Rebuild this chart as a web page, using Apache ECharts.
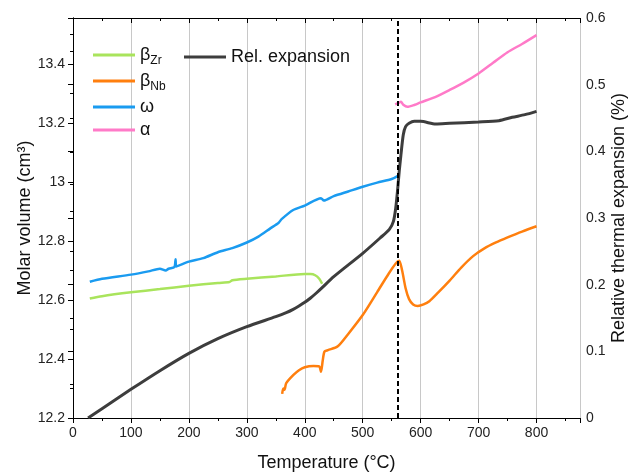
<!DOCTYPE html>
<html>
<head>
<meta charset="utf-8">
<script src="https://cdn.jsdelivr.net/npm/echarts@6/dist/echarts.min.js"></script>
<style>html,body{margin:0;padding:0;background:#fff}#c{width:630px;height:473px}</style>
</head>
<body>
<div id="c"></div>
<script>
// ---- data ----
const xTicks = [0, 100, 200, 300, 400, 500, 600, 700, 800];
const leftTicks = [12.2, 12.4, 12.6, 12.8, 13, 13.2, 13.4];
const rightTicks = [0, 0.1, 0.2, 0.3, 0.4, 0.5, 0.6];
const transitionT = 560;

const betaZrT = [29, 50, 100, 150, 200, 250, 270, 275, 300, 350, 400, 410, 418, 425, 430];
const betaZrV = [12.605, 12.613, 12.626, 12.637, 12.648, 12.658, 12.661, 12.667, 12.672, 12.680, 12.688, 12.688, 12.684, 12.672, 12.655];

const betaNbT = [361, 363, 365, 368, 380, 390, 400, 415, 425, 428, 431, 434, 440, 457, 475, 500, 525, 545, 557, 563, 568, 574, 580, 587, 595, 605, 615, 630, 650, 670, 690, 710, 730, 750, 775, 800];
const betaNbV = [12.282, 12.300, 12.296, 12.318, 12.345, 12.362, 12.372, 12.376, 12.375, 12.357, 12.395, 12.425, 12.430, 12.443, 12.485, 12.549, 12.627, 12.690, 12.724, 12.733, 12.700, 12.640, 12.603, 12.585, 12.580, 12.585, 12.596, 12.625, 12.666, 12.710, 12.748, 12.775, 12.795, 12.812, 12.832, 12.850];

const omegaT = [29, 50, 100, 130, 150, 160, 165, 175, 177, 178, 200, 225, 250, 275, 300, 320, 340, 355, 360, 380, 400, 428, 433, 450, 475, 500, 525, 550, 560];
const omegaV = [12.662, 12.672, 12.686, 12.697, 12.706, 12.700, 12.706, 12.712, 12.738, 12.714, 12.730, 12.742, 12.762, 12.776, 12.795, 12.815, 12.842, 12.862, 12.874, 12.905, 12.920, 12.945, 12.937, 12.952, 12.968, 12.984, 12.998, 13.010, 13.020];

const alphaT = [556, 562, 566, 570, 577, 590, 600, 625, 650, 675, 700, 725, 750, 775, 800];
const alphaV = [13.263, 13.268, 13.272, 13.262, 13.255, 13.262, 13.270, 13.288, 13.312, 13.338, 13.368, 13.404, 13.440, 13.468, 13.498];

const relT = [26, 50, 100, 150, 200, 250, 300, 350, 368, 380, 390, 400, 410, 420, 430, 450, 500, 530, 546, 553, 557, 560, 563, 566, 570, 574, 580, 589, 600, 626, 650, 700, 735, 758, 780, 800];
const relE = [0.000, 0.014, 0.043, 0.071, 0.097, 0.119, 0.137, 0.152, 0.158, 0.163, 0.168, 0.1735, 0.180, 0.1875, 0.1955, 0.212, 0.247, 0.270, 0.283, 0.295, 0.315, 0.340, 0.370, 0.395, 0.425, 0.437, 0.442, 0.445, 0.445, 0.441, 0.442, 0.444, 0.446, 0.451, 0.455, 0.460];

const zip = (a, b) => a.map((v, i) => [v, b[i]]);
const FONT = 'Liberation Sans, Arial, sans-serif';

const chart = echarts.init(document.getElementById('c'), null, {renderer: 'canvas'});

const xBase = {
  type: 'value', min: xTicks[0], max: 875, interval: 100,
  axisLine: {show: true, onZero: false, lineStyle: {color: '#000', width: 1}},
};

const lineSeries = (name, data, color, width, yIdx) => ({
  name, type: 'line', xAxisIndex: 0, yAxisIndex: yIdx, data,
  showSymbol: false, symbol: 'none', smooth: 0.25,
  color, lineStyle: {width, color}
});

const rel = lineSeries('Rel. expansion', zip(relT, relE), '#3d3d3d', 3, 1);
rel.markLine = {silent: true, symbol: ['none', 'none'], label: {show: false},
  lineStyle: {color: '#000', type: [5, 3], width: 2},
  data: [{xAxis: transitionT}]};

chart.setOption({
  animation: false,
  textStyle: {fontFamily: FONT},
  grid: {left: 73, right: 50, top: 18, bottom: 55, containLabel: false, outerBoundsMode: 'none'},
  legend: [
    {
      orient: 'vertical', left: 93, top: 46, padding: 0, itemWidth: 42, itemHeight: 3, itemGap: 5,
      icon: 'rect',
      data: ['βZr', 'βNb', 'ω', 'α'],
      formatter: n => n === 'βZr' ? '{g|β}{s|Zr}' : (n === 'βNb' ? '{g|β}{s|Nb}' : '{g|' + n + '}'),
      textStyle: {
        fontFamily: FONT, color: '#111',
        rich: {
          g: {fontSize: 18, lineHeight: 24, fontFamily: FONT, color: '#111'},
          s: {fontSize: 12, lineHeight: 12, verticalAlign: 'bottom', fontFamily: FONT, color: '#111'}
        }
      }
    },
    {
      left: 184, top: 48, padding: 0, itemWidth: 42, itemHeight: 3, icon: 'rect',
      data: ['Rel. expansion'],
      textStyle: {fontFamily: FONT, fontSize: 18, color: '#111'}
    }
  ],
  xAxis: [
    Object.assign({}, xBase, {
      position: 'bottom',
      name: 'Temperature (°C)', nameLocation: 'middle', nameGap: 36, nameMoveOverlap: false,
      nameTextStyle: {fontSize: 18, color: '#111', fontFamily: FONT},
      axisTick: {show: true, inside: false, length: 5, lineStyle: {color: '#000'}},
      minorTick: {show: true, splitNumber: 2, length: 3, lineStyle: {color: '#000'}},
      axisLabel: {fontSize: 14, color: '#222', margin: 8, showMaxLabel: false, fontFamily: FONT},
      splitLine: {show: true, lineStyle: {color: '#c8c8c8', width: 1}}
    }),
    Object.assign({}, xBase, {
      position: 'top',
      axisTick: {show: true, inside: true, length: 5, lineStyle: {color: '#000'}},
      minorTick: {show: true, splitNumber: 2, length: 3, lineStyle: {color: '#000'}},
      axisLabel: {show: false},
      splitLine: {show: false}
    })
  ],
  yAxis: [
    {
      type: 'value', position: 'left', min: leftTicks[0], max: 13.556, interval: 0.2,
      name: 'Molar volume (cm³)', nameLocation: 'middle', nameGap: 39, nameMoveOverlap: false,
      nameTextStyle: {fontSize: 18, color: '#111', fontFamily: FONT},
      axisLine: {show: true, lineStyle: {color: '#000', width: 1}},
      axisTick: {show: true, inside: false, length: 5, lineStyle: {color: '#000'}},
      minorTick: {show: true, splitNumber: 2, length: 3, lineStyle: {color: '#000'}},
      axisLabel: {fontSize: 14, color: '#222', margin: 8, showMaxLabel: false, fontFamily: FONT},
      splitLine: {show: false}
    },
    {
      type: 'value', position: 'right', min: rightTicks[0], max: rightTicks[rightTicks.length - 1], interval: 0.1,
      name: 'Relative thermal expansion (%)', nameLocation: 'middle', nameGap: 30, nameRotate: 90, nameMoveOverlap: false,
      nameTextStyle: {fontSize: 18, color: '#111', fontFamily: FONT},
      axisLine: {show: true, lineStyle: {color: '#000', width: 1}},
      axisTick: {show: true, inside: true, length: 5, lineStyle: {color: '#000'}},
      minorTick: {show: true, splitNumber: 2, length: 3, lineStyle: {color: '#000'}},
      axisLabel: {fontSize: 14, color: '#222', margin: 6, fontFamily: FONT},
      splitLine: {show: false}
    }
  ],
  series: [
    lineSeries('βZr', zip(betaZrT, betaZrV), '#a9e45c', 2.5, 0),
    lineSeries('βNb', zip(betaNbT, betaNbV), '#ff7f0e', 2.5, 0),
    lineSeries('ω', zip(omegaT, omegaV), '#1a9bf0', 2.5, 0),
    lineSeries('α', zip(alphaT, alphaV), '#ff7ac8', 2.5, 0),
    rel
  ]
});
</script>
</body>
</html>
